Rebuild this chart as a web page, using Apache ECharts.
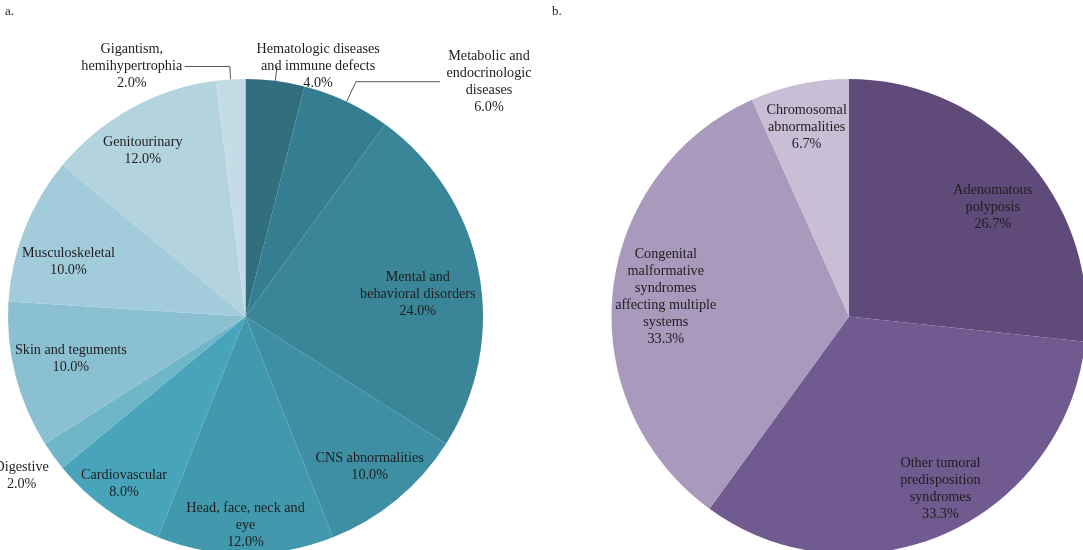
<!DOCTYPE html>
<html><head><meta charset="utf-8">
<script src="https://cdn.jsdelivr.net/npm/echarts@6/dist/echarts.min.js"></script>
<style>html,body{margin:0;padding:0;background:#fff}#c{width:1083px;height:550px}</style>
</head><body><div id="c"></div>
<script>
// ---- data ----
const panelLabels = ['a.', 'b.'];
const leftCategories = [
  'Hematologic diseases\nand immune defects',
  'Metabolic and\nendocrinologic\ndiseases',
  'Mental and\nbehavioral disorders',
  'CNS abnormalities',
  'Head, face, neck and\neye',
  'Cardiovascular',
  'Digestive',
  'Skin and teguments',
  'Musculoskeletal',
  'Genitourinary',
  'Gigantism,\nhemihypertrophia'
];
const leftValues = [4.0, 6.0, 24.0, 10.0, 12.0, 8.0, 2.0, 10.0, 10.0, 12.0, 2.0];
const rightCategories = [
  'Adenomatous\npolyposis',
  'Other tumoral\npredisposition\nsyndromes',
  'Congenital\nmalformative\nsyndromes\naffecting multiple\nsystems',
  'Chromosomal\nabnormalities'
];
const rightValues = [26.7, 33.3, 33.3, 6.7];

// ---- styles ----
const leftColors = ['#316f7f', '#357e91', '#3a8598', '#3e8fa4', '#4298ad', '#47a4bb',
                    '#6fb6c9', '#8bbfd2', '#a2cbdb', '#b3d3df', '#c4dce5'];
const rightColors = ['#5f4a79', '#715a8f', '#a899bd', '#c8bfd6'];
const FONT = 'Liberation Serif';
const FS = 14.2;
const TXT = '#1e1e1e';
const pct = v => v.toFixed(1) + '%';

// outside-label styles for the small left slices (by index)
const outsideStyle = {
  0: { w: 118, len: 15, len2: 0, line: true },
  1: { w: 90, len: 22, len2: 84, line: true },
  6: { w: 58, len: 33, len2: 0, line: false },
  10: { w: 98, len: 13, len2: 45, line: true }
};
const outsideShift = { 0: { dx: -22 }, 6: { dx: 28 } };
// fine nudges of the inside labels (pixels, relative to library placement)
const leftInnerShift = { 2: { dx: -19, dy: 14 }, 4: { dy: 14 }, 5: { dx: -7, dy: 10 },
                         7: { dx: 14, dy: -6 }, 8: { dx: 4, dy: 17 }, 9: { dx: -9, dy: 5 } };
const rightInnerShift = { 0: { dy: 20 }, 1: { dx: 13, dy: -4 }, 2: { dx: 9 }, 3: { dx: -2 } };

function richFmt(p) {
  return p.name.split('\n').concat(pct(p.value)).map(s => '{c|' + s + '}').join('\n');
}
function plainFmt(p) { return p.name + '\n' + pct(p.value); }

const innerLabel = {
  show: true, position: 'inside', formatter: plainFmt,
  fontFamily: FONT, fontSize: FS, lineHeight: 17, color: TXT, align: 'center'
};

const LC = [245.5, 316.5], LR = 237.5;
const RC = [849, 316.5], RR = 237.5;

const leftMain = {
  type: 'pie', center: LC, radius: LR, startAngle: 90, clockwise: true,
  avoidLabelOverlap: false, silent: true, z: 2,
  label: { show: false }, labelLine: { show: false },
  labelLayout: p => outsideShift[p.dataIndex] || {},
  data: leftCategories.map((n, i) => {
    const o = outsideStyle[i];
    const d = { name: n, value: leftValues[i], itemStyle: { color: leftColors[i] } };
    if (o) {
      d.label = {
        show: true, position: 'outside', formatter: richFmt, distanceToLabelLine: 4,
        rich: { c: { width: o.w, align: 'center', fontFamily: FONT, fontSize: FS, lineHeight: 17, color: TXT } }
      };
      d.labelLine = { show: o.line, length: o.len, length2: o.len2, lineStyle: { color: '#555', width: 1 } };
    }
    return d;
  })
};

const leftText = {
  type: 'pie', center: LC, radius: [146, LR], startAngle: 90, clockwise: true,
  avoidLabelOverlap: false, silent: true, z: 3,
  itemStyle: { color: 'rgba(0,0,0,0)' },
  label: innerLabel, labelLine: { show: false },
  labelLayout: p => leftInnerShift[p.dataIndex] || {},
  data: leftCategories.map((n, i) => ({
    name: n, value: leftValues[i],
    label: outsideStyle[i] ? { show: false } : undefined
  }))
};

const rightMain = {
  type: 'pie', center: RC, radius: RR, startAngle: 90, clockwise: true,
  avoidLabelOverlap: false, silent: true, z: 2,
  label: { show: false }, labelLine: { show: false },
  data: rightCategories.map((n, i) => ({ name: n, value: rightValues[i], itemStyle: { color: rightColors[i] } }))
};
const rightText = {
  type: 'pie', center: RC, radius: [143, RR], startAngle: 90, clockwise: true,
  avoidLabelOverlap: false, silent: true, z: 3,
  itemStyle: { color: 'rgba(0,0,0,0)' },
  label: innerLabel, labelLine: { show: false },
  labelLayout: p => rightInnerShift[p.dataIndex] || {},
  data: rightCategories.map((n, i) => ({ name: n, value: rightValues[i] }))
};

const chart = echarts.init(document.getElementById('c'), null, { renderer: 'canvas' });
chart.setOption({
  animation: false,
  backgroundColor: '#fff',
  title: [
    { text: panelLabels[0], left: 5, top: 5, padding: 0, textStyle: { fontFamily: FONT, fontSize: 13, fontWeight: 'normal', color: TXT } },
    { text: panelLabels[1], left: 552, top: 5, padding: 0, textStyle: { fontFamily: FONT, fontSize: 13, fontWeight: 'normal', color: TXT } }
  ],
  series: [leftMain, leftText, rightMain, rightText]
});
</script>
</body></html>
